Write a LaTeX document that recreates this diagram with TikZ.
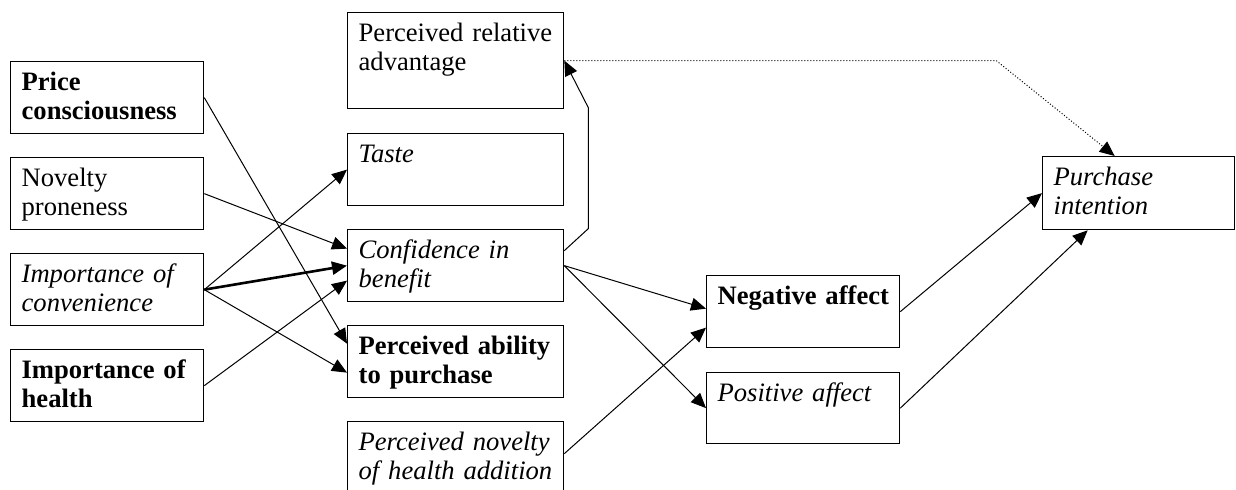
\documentclass[tikz,border=0pt]{standalone}
\usepackage{fontspec}
\setmainfont{Liberation Serif}
\usetikzlibrary{arrows.meta}
\begin{document}
\begin{tikzpicture}[x=0.5pt, y=-0.5pt,
  box/.style={draw, line width=0.65pt, anchor=north west, align=left,
    inner xsep=5.5pt, inner ysep=0pt, text height=14.5pt, text depth=21.5pt,
    font=\fontsize{13.3}{14.5}\selectfont},
  lbox/.style={box, text width=85.5pt},
  mbox/.style={box, text width=97pt},
  arr/.style={-{Triangle[length=7.5pt,width=6.5pt]}, line width=0.5pt}]
\useasboundingbox (0,0) rectangle (1236,490);

% Vstupni faktory (vlevo)
\node[lbox] (price) at (10,61) {\bfseries Price\\consciousness};
\node[lbox] (novelty) at (10,157) {Novelty\\proneness};
\node[lbox] (conv) at (10,253) {\itshape Importance of\\convenience};
\node[lbox] (health) at (10,349) {\bfseries Importance of\\health};

% Vnimani produktu (uprostred)
\node[mbox, text depth=33.5pt] (relad) at (347,12) {Perceived relative\\advantage};
\node[mbox] (taste) at (347,133) {\itshape Taste};
\node[mbox] (conf) at (347,229) {\itshape Confidence in\\benefit};
\node[mbox] (ability) at (347,325) {\bfseries Perceived ability\\to purchase};
\node[mbox] (healthnov) at (347,421) {\itshape Perceived novelty\\of health addition};

% Afekt
\node[lbox] (neg) at (706,275) {\bfseries\mbox{Negative affect}};
\node[lbox, text depth=21pt] (pos) at (706,372) {\itshape\mbox{Positive affect}};

% Zamer
\node[box, text width=85pt, text depth=22pt] (purchase) at (1042,156) {\itshape Purchase\\intention};

% Sipky zleva
\draw[arr] (price.east) -- ([yshift=9pt]ability.west);
\draw[arr] (novelty.east) -- ([yshift=8.5pt]conf.west);
\draw[arr] (conv.east) -- (taste.west);
\draw[arr, line width=1.3pt] (conv.east) -- (conf.west);
\draw[arr] (conv.east) -- ([yshift=-5.5pt]ability.west);
\draw[arr] (health.east) -- ([yshift=-7.5pt]conf.west);

% Confidence -> relative advantage
\draw[arr] ([yshift=7.5pt]conf.east) -- ++(24,-22) -- ++(0,-121) -- (relad.east);

% Sipky k afektu
\draw[arr] (conf.east) -- ([yshift=1.5pt]neg.west);
\draw[arr] (conf.east) -- (pos.west);
\draw[arr] ([yshift=2pt]healthnov.east) -- ([yshift=-8pt]neg.west);

% Sipky k zameru
\draw[arr] (neg.east) -- (purchase.west);
\draw[arr] (pos.east) -- ([xshift=-25.5pt]purchase.south);
\draw[arr, densely dotted] (relad.east) -- ++(432,0) -- ([xshift=-12pt]purchase.north);
\end{tikzpicture}
\end{document}
